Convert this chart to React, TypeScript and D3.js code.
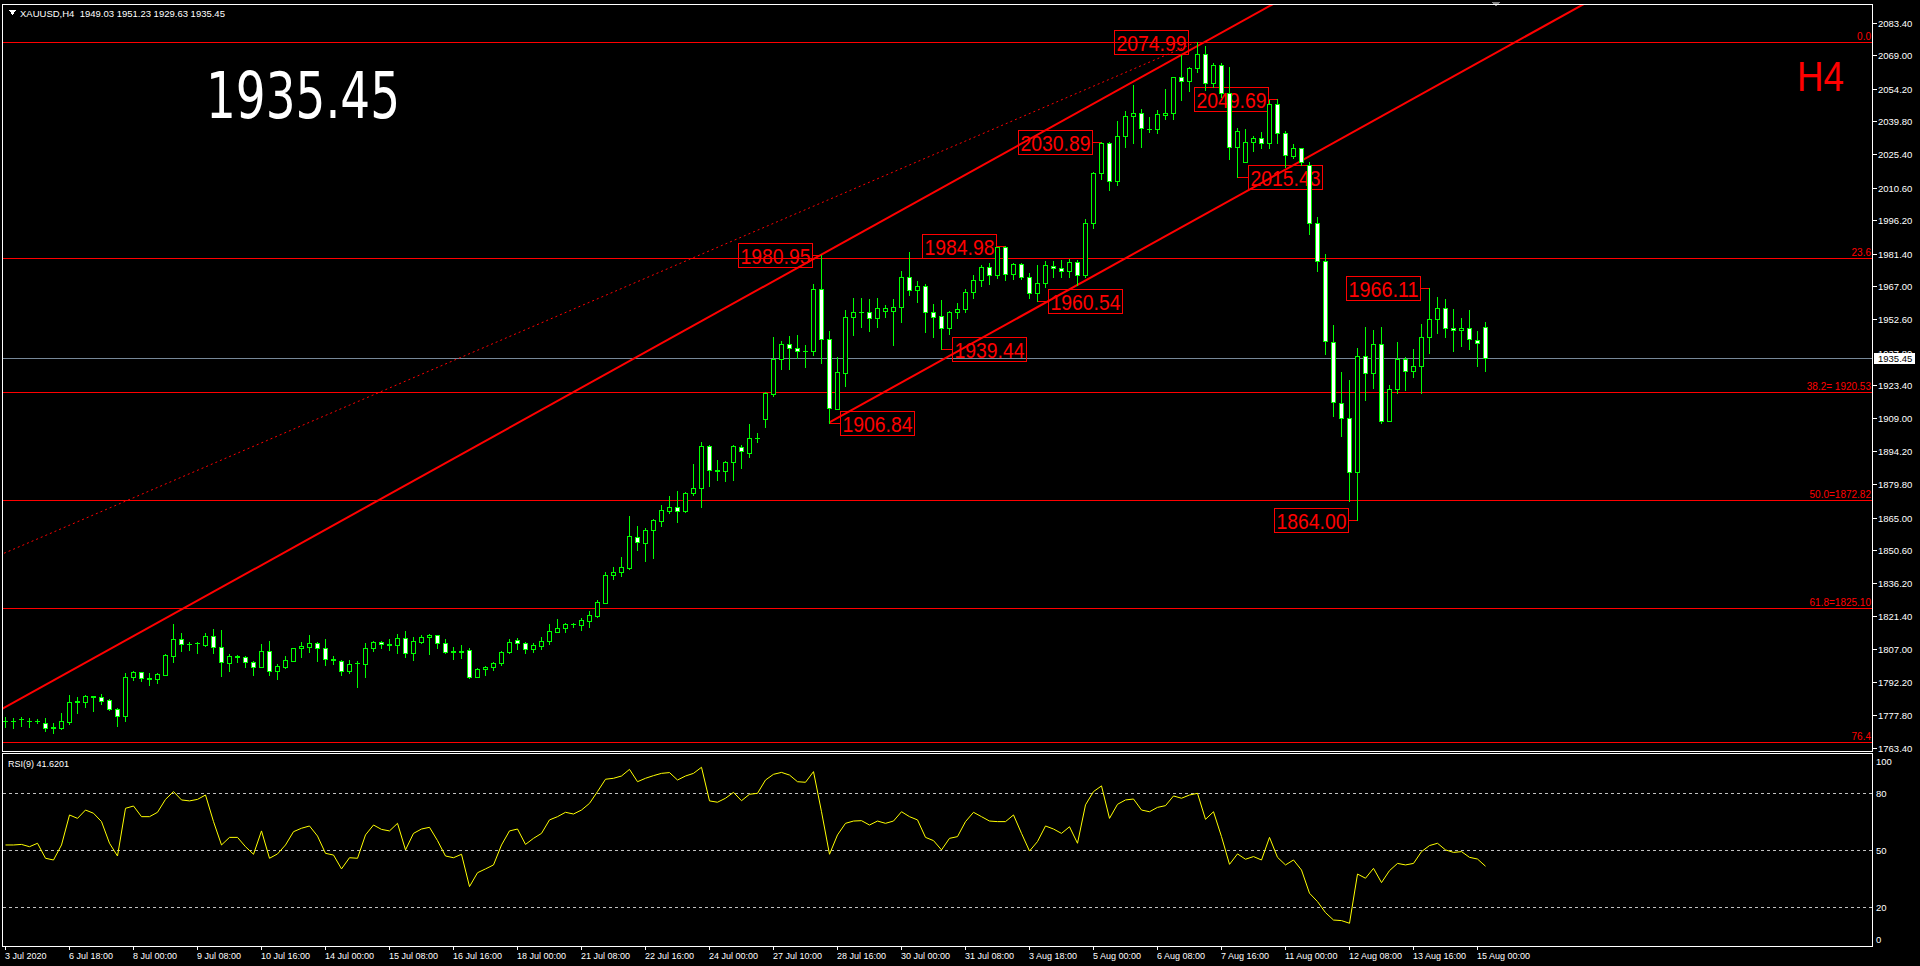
import React from 'react';
import * as d3 from 'd3';

// ---------- DATA ----------
const SYMBOL = 'XAUUSD';
const TIMEFRAME = 'H4';
const HEADER_OHLC = [1949.03, 1951.23, 1929.63, 1935.45];
const LAST_PRICE = 1935.45;
const RSI_PERIOD = 9;
const RSI_LAST = '41.6201';

const OPEN = [
  1775.3,1775.4,1775.9,1775.3,1775.4,1774.2,1772.2,1772.3,1774.9,1783.6,
  1783.4,1786.0,1785.6,1784.5,1780.4,1777.6,1794.8,1796.7,1794.1,1793.7,
  1795.6,1804.0,1811.2,1809.1,1809.4,1808.9,1812.7,1807.7,1800.7,1803.5,
  1803.6,1801.2,1799.2,1806.1,1797.4,1799.2,1801.8,1807.3,1808.0,1809.5,
  1807.3,1802.3,1801.8,1797.4,1800.6,1800.2,1807.3,1809.9,1808.9,1808.7,
  1811.7,1805.1,1810.2,1812.1,1813.2,1809.5,1805.7,1805.9,1806.5,1794.8,
  1798.0,1798.9,1800.7,1805.5,1811.0,1809.5,1806.8,1808.4,1810.4,1814.6,
  1816.1,1817.9,1817.6,1819.5,1821.7,1827.4,1839.5,1840.8,1842.9,1856.6,
  1853.9,1859.5,1863.6,1868.0,1869.8,1868.0,1875.7,1877.9,1896.6,1885.8,
  1885.7,1889.7,1896.3,1893.6,1900.1,1908.3,1919.5,1934.8,1941.4,1939.7,
  1938.5,1938.6,1966.0,1943.6,1913.1,1928.6,1953.4,1955.6,1955.9,1952.9,
  1956.3,1956.3,1958.1,1971.0,1965.5,1967.0,1955.6,1953.9,1948.5,1955.6,
  1956.9,1964.5,1970.0,1975.5,1972.0,1984.3,1972.5,1976.8,1971.1,1964.0,
  1968.4,1976.1,1975.0,1974.0,1977.7,1972.1,1994.9,2016.9,2030.5,2013.6,
  2033.6,2042.4,2043.4,2036.7,2036.5,2042.8,2043.4,2059.3,2057.8,2063.3,
  2069.6,2056.7,2064.8,2052.3,2028.4,2022.1,2030.6,2032.4,2030.2,2047.5,
  2034.9,2024.6,2028.0,2020.6,1995.2,1978.0,1942.6,1915.7,1908.8,1884.9,
  1936.4,1928.6,1941.4,1907.8,1921.6,1934.8,1929.8,1931.7,1944.8,1952.5,
  1957.3,1948.5,1947.6,1948.5,1943.2,1949.03
];
const HIGH = [
  1776.8,1776.4,1777.1,1776.4,1776.1,1776.4,1774.2,1778.6,1786.7,1785.9,
  1786.7,1786.4,1787.0,1784.9,1781.1,1796.2,1797.3,1797.0,1796.2,1796.2,
  1804.6,1818.0,1814.2,1810.2,1810.2,1814.2,1815.7,1815.4,1804.8,1804.3,
  1804.0,1801.7,1809.2,1810.5,1800.4,1803.9,1807.6,1809.9,1813.2,1810.2,
  1811.4,1803.9,1802.1,1802.1,1801.7,1809.8,1810.7,1810.5,1811.4,1813.4,
  1814.9,1812.4,1813.2,1813.4,1813.3,1811.4,1808.0,1808.7,1807.3,1798.4,
  1799.6,1801.4,1806.1,1811.4,1811.7,1810.2,1809.8,1812.1,1818.0,1820.2,
  1818.6,1818.6,1820.5,1823.7,1828.6,1841.1,1843.3,1847.4,1865.7,1861.3,
  1860.2,1864.5,1870.5,1874.5,1876.7,1876.3,1888.6,1898.5,1896.8,1890.4,
  1890.1,1897.0,1897.0,1906.3,1902.2,1920.5,1944.5,1942.9,1945.1,1945.6,
  1941.1,1968.0,1980.95,1947.3,1935.7,1956.6,1962.0,1962.0,1961.5,1962.0,
  1958.8,1961.5,1974.0,1982.0,1969.5,1968.0,1959.2,1961.0,1956.3,1959.8,
  1966.0,1972.0,1976.5,1977.5,1984.5,1984.98,1977.2,1977.5,1972.8,1976.5,
  1978.0,1978.0,1978.7,1979.0,1978.7,1996.6,2017.7,2030.89,2030.6,2040.2,
  2044.6,2055.9,2045.3,2041.7,2044.9,2054.0,2059.6,2069.2,2063.7,2074.99,
  2073.1,2065.5,2065.5,2064.0,2036.8,2036.5,2033.4,2035.3,2049.2,2049.69,
  2035.6,2029.9,2028.3,2021.7,1997.5,1981.3,1950.0,1929.1,1925.7,1939.7,
  1948.9,1947.8,1948.9,1923.5,1942.3,1935.7,1939.4,1950.4,1966.11,1962.2,
  1961.3,1956.9,1952.9,1956.6,1947.3,1951.23
];
const LOW = [
  1772.7,1772.3,1773.0,1772.5,1774.2,1770.9,1769.8,1771.8,1773.7,1778.9,
  1781.2,1779.8,1782.7,1780.1,1773.1,1775.4,1793.3,1793.0,1791.1,1792.1,
  1795.4,1801.4,1806.1,1806.5,1805.4,1808.4,1805.1,1795.2,1797.4,1801.2,
  1799.2,1795.6,1799.0,1795.6,1793.9,1798.7,1801.5,1803.6,1805.8,1801.8,
  1799.9,1800.2,1795.6,1796.2,1790.4,1794.8,1806.2,1807.6,1806.5,1805.4,
  1803.3,1802.1,1809.5,1804.8,1807.6,1805.1,1802.6,1803.2,1794.3,1794.5,
  1795.6,1797.7,1799.9,1805.1,1806.8,1805.1,1805.8,1806.8,1809.2,1814.3,
  1814.6,1816.5,1815.4,1816.8,1821.2,1827.2,1838.0,1839.2,1842.1,1850.7,
  1846.0,1847.3,1861.3,1867.1,1863.2,1867.6,1874.9,1869.8,1879.1,1881.6,
  1881.1,1881.6,1887.0,1891.6,1898.5,1905.1,1918.8,1930.5,1930.5,1935.3,
  1931.6,1936.7,1933.3,1906.84,1912.8,1923.0,1945.6,1949.2,1947.5,1949.2,
  1953.6,1941.1,1951.4,1963.0,1960.3,1947.0,1944.8,1939.44,1945.8,1952.9,
  1955.9,1962.0,1967.0,1968.0,1970.5,1969.9,1970.2,1970.2,1961.8,1960.54,
  1966.9,1971.3,1971.3,1971.3,1967.7,1971.3,1992.7,2014.3,2009.6,2011.8,
  2028.7,2030.2,2028.7,2035.3,2034.6,2040.8,2040.8,2049.3,2053.4,2061.8,
  2053.7,2054.9,2050.8,2023.1,2015.43,2021.7,2026.9,2028.0,2028.0,2030.5,
  2019.9,2023.6,2020.6,1990.2,1974.0,1937.2,1909.9,1901.1,1872.5,1864.00,
  1916.9,1922.3,1906.6,1907.6,1919.8,1921.3,1927.2,1920.1,1937.8,1946.6,
  1944.8,1938.6,1940.7,1939.4,1932.0,1929.63
];
const CLOSE = [
  1775.4,1775.3,1776.0,1775.4,1775.3,1772.3,1772.4,1775.2,1783.7,1783.8,
  1786.2,1785.8,1784.2,1780.4,1777.6,1794.8,1796.8,1794.0,1793.9,1795.8,
  1804.3,1811.2,1809.0,1809.3,1809.6,1812.7,1807.7,1801.1,1803.9,1803.7,
  1801.1,1799.2,1806.1,1797.4,1799.5,1802.1,1807.3,1808.3,1809.5,1807.3,
  1802.4,1802.5,1797.4,1800.2,1800.8,1807.3,1809.9,1809.0,1809.1,1811.7,
  1805.1,1810.5,1812.1,1813.2,1809.5,1805.8,1805.9,1805.8,1794.8,1798.2,
  1798.9,1800.9,1805.5,1809.9,1809.8,1806.8,1808.7,1810.5,1814.9,1816.1,
  1818.0,1818.1,1819.8,1822.0,1827.9,1839.5,1840.8,1843.0,1856.9,1854.1,
  1859.5,1863.9,1868.3,1869.8,1868.0,1875.7,1877.9,1896.6,1886.0,1885.6,
  1889.7,1896.6,1894.4,1900.0,1900.3,1919.8,1934.8,1941.4,1939.7,1938.5,
  1938.7,1966.0,1943.6,1913.2,1929.1,1953.4,1955.6,1955.8,1952.9,1957.3,
  1957.3,1958.1,1971.0,1965.5,1967.0,1955.6,1953.4,1948.5,1955.6,1956.9,
  1964.5,1970.0,1975.5,1972.0,1984.3,1972.5,1976.8,1971.1,1964.0,1968.4,
  1976.5,1975.2,1974.0,1977.7,1972.1,1994.9,2016.9,2030.5,2013.6,2033.6,
  2042.4,2043.4,2036.8,2036.5,2043.0,2043.4,2059.3,2057.8,2063.3,2069.6,
  2056.7,2064.8,2052.3,2028.4,2035.6,2030.6,2032.4,2030.2,2047.5,2034.9,
  2025.0,2028.0,2022.1,1995.2,1978.3,1942.9,1915.8,1908.8,1884.9,1936.4,
  1928.6,1941.4,1907.8,1921.6,1934.8,1929.8,1931.7,1944.8,1952.5,1957.3,
  1948.5,1947.6,1948.5,1943.7,1941.9,1935.45
];

const RSI = [
  52.8,52.8,53.1,51.9,53.7,45.8,44.9,52.8,68.6,66.8,
  71.2,69.5,65.1,53.7,47.0,72.1,73.3,67.7,67.7,70.0,
  76.8,80.9,76.5,76.0,76.8,79.1,65.1,52.8,56.8,56.8,
  51.9,47.9,60.2,45.8,48.1,52.8,59.8,61.6,62.8,57.5,
  48.4,47.5,40.2,46.1,45.8,58.1,63.3,61.0,60.2,64.2,
  50.2,58.9,61.2,62.1,55.1,47.0,46.1,47.9,30.9,38.2,
  40.2,42.3,52.8,60.2,61.2,53.1,56.3,58.9,66.0,67.7,
  70.0,69.1,71.2,74.7,80.9,87.4,87.9,89.1,92.6,86.1,
  87.9,89.3,90.5,90.9,87.0,89.1,90.5,93.7,76.0,75.3,
  77.4,80.5,76.1,79.5,80.0,87.0,90.0,91.0,89.6,86.1,
  85.8,91.4,70.3,47.9,58.1,64.2,65.4,65.6,63.3,65.4,
  64.2,65.4,70.3,67.7,66.0,56.8,55.1,50.2,56.3,57.2,
  65.1,70.0,67.7,65.4,65.1,65.1,68.6,58.9,49.6,54.6,
  62.8,61.2,58.9,62.4,53.7,73.9,80.9,83.9,66.8,74.2,
  76.5,77.0,71.2,70.3,72.6,73.5,78.6,77.4,79.1,80.0,
  66.3,70.3,57.2,42.6,48.1,45.3,46.7,44.9,56.8,46.3,
  42.3,44.9,39.6,27.4,23.0,17.2,13.3,13.0,11.6,37.5,
  35.3,40.5,33.0,39.3,43.1,42.3,43.1,49.3,52.5,53.7,
  50.2,48.9,49.3,46.3,45.4,41.62
];

const PRICE_TICKS = [
  2083.40,2069.00,2054.20,2039.80,2025.40,2010.60,1996.20,1981.40,1967.00,
  1952.60,1937.80,1923.40,1909.00,1894.20,1879.80,1865.00,1850.60,1836.20,
  1821.40,1807.00,1792.20,1777.80,1763.40
];
const RSI_TICKS = [100, 80, 50, 20, 0];
const RSI_LEVELS = [80, 50, 20];

const TIME_LABEL_STEP = 8;
const TIME_LABELS = [
  '3 Jul 2020','6 Jul 18:00','8 Jul 00:00','9 Jul 08:00','10 Jul 16:00',
  '14 Jul 00:00','15 Jul 08:00','16 Jul 16:00','18 Jul 00:00','21 Jul 08:00',
  '22 Jul 16:00','24 Jul 00:00','27 Jul 10:00','28 Jul 16:00','30 Jul 00:00',
  '31 Jul 08:00','3 Aug 18:00','5 Aug 00:00','6 Aug 08:00','7 Aug 16:00',
  '11 Aug 00:00','12 Aug 08:00','13 Aug 16:00','15 Aug 00:00'
];

const FIB_TEXTS = ['0.0','23.6','38.2= 1920.53','50.0=1872.82','61.8=1825.10','76.4'];
const FIB_PRICES = [2074.99, 1979.57, 1920.53, 1872.82, 1825.10, 1766.07];

const LABEL_BARS = [149, 159, 137, 154, 125, 102, 129, 117, 103, 178, 169];
const LABEL_PRICES = [2074.99, 2049.69, 2030.89, 2015.43, 1984.98, 1980.95, 1960.54, 1939.44, 1906.84, 1966.11, 1864.00];
const LABEL_SIDES = ['left','left','left','right','left','left','right','right','right','left','left'];

// trend lines as [bar, price] anchors
const CHANNEL_UPPER = [[0, 1781.2], [102, 1980.95]];
const CHANNEL_LOWER_START = [103, 1906.84];
const DOTTED_LINE = [[-0.6, 1848.5], [149, 2074.99]];

// ---------- LAYOUT ----------
const W = 1920, H = 966;
const PANEL_L = 2.5, PANEL_R = 1872.5;
const MAIN_T = 4.5, MAIN_B = 751.5;
const RSI_T = 753.5, RSI_B = 946.5;
const GREEN = '#00ff00';
const RED = '#ff0000';
const FONT = '"Liberation Sans", Arial, sans-serif';

export default function App() {
  const x = d3.scaleLinear().domain([0, OPEN.length - 1]).range([5, 5 + 8 * (OPEN.length - 1)]);
  const y = d3.scaleLinear().domain([1763.4, 2083.4]).range([747.7, 22.7]);
  const yr = d3.scaleLinear().domain([0, 100]).range([945.3, 755.3]);

  const slope = (CHANNEL_UPPER[1][1] - CHANNEL_UPPER[0][1]) / (CHANNEL_UPPER[1][0] - CHANNEL_UPPER[0][0]);
  const upperAt = (b: number) => CHANNEL_UPPER[0][1] + slope * (b - CHANNEL_UPPER[0][0]);
  const lowerAt = (b: number) => CHANNEL_LOWER_START[1] + slope * (b - CHANNEL_LOWER_START[0]);
  const dSlope = (DOTTED_LINE[1][1] - DOTTED_LINE[0][1]) / (DOTTED_LINE[1][0] - DOTTED_LINE[0][0]);
  const dottedAt = (b: number) => DOTTED_LINE[0][1] + dSlope * (b - DOTTED_LINE[0][0]);

  const rsiLine = d3.line<number>().x((_, i) => x(i) + 0.5).y((d) => yr(d));

  const headerText = `${SYMBOL},${TIMEFRAME}\u00a0\u00a0${HEADER_OHLC.map((v) => v.toFixed(2)).join(' ')}`;

  const candles = OPEN.map((o, i) => {
    const h = HIGH[i], l = LOW[i], c = CLOSE[i];
    const cx = Math.round(x(i));
    const yH = Math.round(y(h)), yL = Math.round(y(l));
    const yT = Math.round(y(Math.max(o, c))), yB = Math.round(y(Math.min(o, c)));
    const bear = c < o;
    return (
      <g key={i}>
        <line x1={cx + 0.5} x2={cx + 0.5} y1={yH} y2={yL + 1} stroke={GREEN} strokeWidth={1} />
        {yB - yT < 1 ? (
          <line x1={cx - 2} x2={cx + 3} y1={yT + 0.5} y2={yT + 0.5} stroke={GREEN} strokeWidth={1} />
        ) : (
          <rect x={cx - 1.5} y={yT + 0.5} width={4} height={yB - yT} fill={bear ? '#ffffff' : '#000000'} stroke={GREEN} strokeWidth={1} />
        )}
      </g>
    );
  });

  const BOX_W = 74, BOX_H = 24;
  const lastY = Math.round(y(LAST_PRICE));
  const boxTop = lastY - 5, boxBot = lastY + 6;

  return (
    <div style={{ position: 'fixed', left: 0, top: 0, width: W, height: H, background: '#000' }}>
      <svg width={W} height={H} style={{ display: 'block', background: '#000' }} shapeRendering="crispEdges">
        <defs>
          <clipPath id="mainClip">
            <rect x={3} y={5} width={1869} height={746} />
          </clipPath>
          <clipPath id="rsiClip">
            <rect x={3} y={754} width={1869} height={192} />
          </clipPath>
          <clipPath id="axisClip">
            <rect x={1873} y={0} width={47} height={boxTop} />
            <rect x={1873} y={boxBot} width={47} height={H - boxBot} />
          </clipPath>
        </defs>
        <rect x={0} y={0} width={W} height={H} fill="#000" />

        {/* main panel */}
        <g clipPath="url(#mainClip)">
          {FIB_PRICES.map((p, i) => (
            <line key={'fib' + i} x1={3} x2={1872} y1={Math.round(y(p)) + 0.5} y2={Math.round(y(p)) + 0.5} stroke={RED} strokeWidth={1} />
          ))}
          <line x1={3} x2={1872} y1={lastY + 0.5} y2={lastY + 0.5} stroke="#778899" strokeWidth={1} />

          {/* dotted trend line */}
          <line x1={x(-3)} y1={y(dottedAt(-3))} x2={x(DOTTED_LINE[1][0])} y2={y(DOTTED_LINE[1][1])}
            stroke={RED} strokeWidth={1} strokeDasharray="2,3" shapeRendering="auto" />
          {/* channel */}
          <line x1={x(-3)} y1={y(upperAt(-3))} x2={x(260)} y2={y(upperAt(260))} stroke={RED} strokeWidth={2} shapeRendering="auto" />
          <line x1={x(CHANNEL_LOWER_START[0])} y1={y(CHANNEL_LOWER_START[1])} x2={x(260)} y2={y(lowerAt(260))} stroke={RED} strokeWidth={2} shapeRendering="auto" />

          {/* price labels */}
          {LABEL_BARS.map((b, i) => {
            const cx = Math.round(x(b));
            const py = Math.round(y(LABEL_PRICES[i]));
            const left = LABEL_SIDES[i] === 'left';
            const bx = left ? cx - 9 - BOX_W : cx + 11;
            const by = py - BOX_H / 2;
            const edge = left ? bx + BOX_W : bx;
            return (
              <g key={'lab' + i}>
                <line x1={edge} x2={cx + 0.5} y1={py + 0.5} y2={py + 0.5} stroke={RED} strokeWidth={1} />
                <rect x={bx + 0.5} y={by + 0.5} width={BOX_W} height={BOX_H} fill="none" stroke={RED} strokeWidth={1} />
                <text x={bx + 2.5} y={by + 20.5} fill={RED} fontFamily={FONT} fontSize={22}
                  textLength={70} lengthAdjust="spacingAndGlyphs" shapeRendering="auto">
                  {LABEL_PRICES[i].toFixed(2)}
                </text>
              </g>
            );
          })}

          {candles}
        </g>

        {/* fib texts */}
        {FIB_PRICES.map((p, i) => (
          <text key={'ft' + i} x={1871} y={Math.round(y(p)) - 2} fill={RED} fontFamily={FONT} fontSize={10} textAnchor="end">
            {FIB_TEXTS[i]}
          </text>
        ))}

        {/* big price & timeframe */}
        <text x={206} y={118} fill="#ffffff" fontFamily='"DejaVu Sans", sans-serif' fontSize={64}
          textLength={194} lengthAdjust="spacingAndGlyphs">{LAST_PRICE.toFixed(2)}</text>
        <text x={1797} y={91} fill={RED} fontFamily={FONT} fontSize={42}
          textLength={47} lengthAdjust="spacingAndGlyphs">{TIMEFRAME}</text>

        {/* header */}
        <path d="M9,10 L16,10 L12.5,15 Z" fill="#ffffff" />
        <text x={20} y={17} fill="#ffffff" fontFamily={FONT} fontSize={9.5}>{headerText}</text>
        <path d="M1492,2 L1500,2 L1496,7 Z" fill="#808080" />

        {/* RSI panel */}
        <g clipPath="url(#rsiClip)">
          {RSI_LEVELS.map((v) => (
            <line key={'rl' + v} x1={3} x2={1872} y1={Math.round(yr(v)) + 0.5} y2={Math.round(yr(v)) + 0.5}
              stroke="#c0c0c0" strokeWidth={1} strokeDasharray="3,3" />
          ))}
          <path d={rsiLine(RSI) || ''} fill="none" stroke="#ffff00" strokeWidth={1} shapeRendering="auto" />
        </g>
        <text x={8} y={767} fill="#ffffff" fontFamily={FONT} fontSize={9}>{`RSI(${RSI_PERIOD}) ${RSI_LAST}`}</text>

        {/* panel frames */}
        <rect x={PANEL_L} y={MAIN_T} width={PANEL_R - PANEL_L} height={MAIN_B - MAIN_T} fill="none" stroke="#ffffff" strokeWidth={1} />
        <rect x={PANEL_L} y={RSI_T} width={PANEL_R - PANEL_L} height={RSI_B - RSI_T} fill="none" stroke="#ffffff" strokeWidth={1} />

        {/* price axis */}
        <g clipPath="url(#axisClip)">
          {PRICE_TICKS.map((p) => {
            const ty = Math.round(y(p));
            return (
              <g key={'pt' + p}>
                <line x1={1873} x2={1877} y1={ty + 0.5} y2={ty + 0.5} stroke="#ffffff" strokeWidth={1} />
                <text x={1878} y={ty + 3.5} fill="#ffffff" fontFamily={FONT} fontSize={9.5}>{p.toFixed(2)}</text>
              </g>
            );
          })}
        </g>
        {/* last price marker */}
        <rect x={1874} y={boxTop} width={41} height={boxBot - boxTop} fill="#ffffff" />
        <text x={1878} y={lastY + 3.5} fill="#000000" fontFamily={FONT} fontSize={9.5}>{LAST_PRICE.toFixed(2)}</text>

        {/* RSI axis */}
        {RSI_TICKS.map((v) => (
          <text key={'rt' + v} x={1876} y={Math.min(939, Math.max(761, yr(v))) + 3.5} fill="#ffffff" fontFamily={FONT} fontSize={9.5}>{v}</text>
        ))}

        {/* time axis */}
        {TIME_LABELS.map((t, k) => {
          const tx = Math.round(x(k * TIME_LABEL_STEP));
          return (
            <g key={'tl' + k}>
              <line x1={tx + 0.5} x2={tx + 0.5} y1={946} y2={950} stroke="#ffffff" strokeWidth={1} />
              <text x={tx} y={958.5} fill="#ffffff" fontFamily={FONT} fontSize={9}>{t}</text>
            </g>
          );
        })}
      </svg>
    </div>
  );
}
